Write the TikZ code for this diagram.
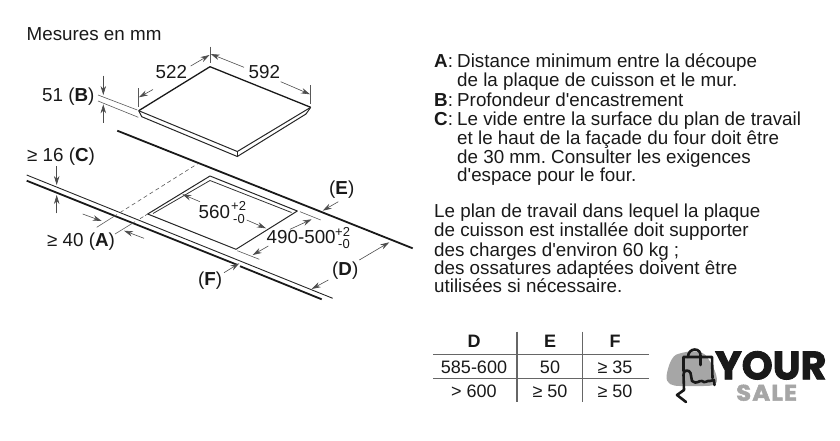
\documentclass[tikz,border=0pt]{standalone}
\usepackage{fontspec}
\setmainfont{Liberation Sans}
\newfontfamily\lblfont{Liberation Sans}
\newfontfamily\logofont{Poppins}[BoldFeatures={FakeBold=2.2}]
\newfontfamily\salefont{Poppins}[BoldFeatures={FakeBold=2.2,LetterSpace=5,FakeStretch=1.08}]
\usetikzlibrary{arrows.meta}

\begin{document}
\begin{tikzpicture}[
    x=1pt, y=-1pt,
    > = {Stealth[length=9pt,width=5.5pt]},
    thinline/.style={line width=0.6pt, black!65},
    edgeline/.style={line width=1pt, black!85},
    boldline/.style={line width=1.8pt, black!90},
    dimline/.style={->, line width=0.6pt, black!70},
    lbl/.style={anchor=base west, inner sep=0pt, font=\lblfont\frenchspacing\fontsize{18.8}{20}\selectfont, text=black!90},
    cell/.style={anchor=base, inner sep=0pt, font=\lblfont\fontsize{18}{20}\selectfont, text=black!90},
    tol/.style={anchor=base west, inner sep=0pt, font=\lblfont\fontsize{13}{14}\selectfont, text=black!90},
    ruleline/.style={line width=1.1pt, black!60},
    bagline/.style={line width=2.6pt, black!90, line join=round, line cap=round}
]
    \useasboundingbox (0,0) rectangle (840,440);

    % Cooktop
    \coordinate (ctopL) at (138.7,110.7);
    \coordinate (ctopT) at (210,66.7);
    \coordinate (ctopR) at (310.7,107.3);
    \coordinate (ctopB) at (237.3,151.5);
    \draw[line width=1.3pt, black!90, line join=round] (ctopL) -- (ctopT) -- (ctopR);
    \draw[edgeline] (ctopL) -- (ctopB) -- (ctopR);
    \draw[edgeline] (ctopL) -- (141.7,116.7) -- (237.3,156.5) -- (306,114) -- (ctopR);
    \draw[edgeline] (ctopB) -- (237.3,156.5);

    % Dimensions of the cooktop
    \draw[thinline] (210,46.7) -- (210,63);
    \draw[thinline] (138.7,88) -- (138.7,107);
    \draw[thinline] (310.7,85) -- (310.7,104);
    \draw[dimline] (153,89.5) -- (138.9,97.3);
    \draw[dimline] (190.7,66) -- (209.5,55);
    \draw[dimline] (244,67.3) -- (210.7,54);
    \draw[dimline] (280.7,81.7) -- (310,94.3);
    \draw[thinline] (98,95) -- (137.3,110);
    \draw[thinline] (98,101) -- (138.3,117.3);
    \draw[dimline] (103.3,75.7) -- (103.3,95);
    \draw[dimline] (103.3,122.7) -- (103.3,104.3);

    % Worktop
    \draw[boldline] (117.3,130.7) -- (412.7,248.3);
    \draw[line width=0.9pt, black!85] (26.7,175) -- (332.7,298.3);
    \draw[boldline] (26.7,180.7) -- (236.7,264.6);
    \draw[boldline] (240,266.2) -- (321.7,299.3);

    % Cut-out
    \coordinate (cutL) at (147.7,214);
    \coordinate (cutT) at (210,176);
    \coordinate (cutR) at (297.3,211);
    \coordinate (cutB) at (236,249.3);
    \draw[edgeline, line join=round] (cutL) -- (cutT) -- (cutR) -- (cutB) -- cycle;
    \draw[line width=0.8pt, black!80] (153,213.5) -- (210,180.5) -- (291.5,212.5);

    % Extension lines for A
    \draw[thinline] (96.7,227.3) -- (117,214.5);
    \draw[thinline, dash pattern=on 4pt off 3pt] (120,212.6) -- (198.3,163.3);
    \draw[thinline] (115,234) -- (135,221.7);
    \draw[thinline, dash pattern=on 4pt off 2pt] (140,218.7) -- (cutL);
    \draw[dimline] (82.7,214) -- (101.7,221);
    \draw[dimline] (144,238.3) -- (124,230.7);

    % C and inner dimensions
    \draw[dimline] (56.7,166) -- (56.7,185);
    \draw[dimline] (56.7,213.3) -- (56.7,195);
    \draw[dimline] (200,201.7) -- (182.3,194.3);
    \draw[dimline] (246.7,220) -- (266,228.3);
    \draw[thinline] (300,211.7) -- (320.7,220);
    \draw[thinline] (237.3,250.7) -- (259.3,259.3);
    \draw[dimline] (290,229.3) -- (311.7,219.3);
    \draw[dimline] (268.3,246) -- (252.7,255);

    % E, D, F
    \draw[dimline] (338.3,201.7) -- (322.7,210.7);
    \draw[dimline] (359.3,260) -- (389.3,242.3);
    \draw[dimline] (328.3,280) -- (311.7,289);
    \draw[dimline] (224,272.7) -- (239.3,263.3);

    % Labels of the drawing
    \node[lbl] (mesures) at (26.5,40) {Mesures en mm};
    \node[lbl] (len) at (155.5,78.3) {522};
    \node[lbl] (wid) at (248.5,78.3) {592};
    \node[lbl] (labB) at (42,101.7) {51 (\textbf{B})};
    \node[lbl] (labC) at (27,161.7) {≥ 16 (\textbf{C})};
    \node[lbl] (labA) at (47,246) {≥ 40 (\textbf{A})};
    \node[lbl] (cutw) at (198.5,218) {560};
    \node[tol] (cutwup) at (231,210) {+2};
    \node[tol] (cutwlo) at (233,223) {-0};
    \node[lbl] (cutd) at (266.5,243.3) {490-500};
    \node[tol] (cutdup) at (335,236) {+2};
    \node[tol] (cutdlo) at (338,248.5) {-0};
    \node[lbl] (labE) at (329,194) {(\textbf{E})};
    \node[lbl] (labD) at (332,275) {(\textbf{D})};
    \node[lbl] (labF) at (198,285.7) {(\textbf{F})};

    % Notes
    \node[lbl] (noteA) at (434,67) {\textbf{A}:};
    \node[lbl] (noteAa) at (457,67) {Distance minimum entre la découpe};
    \node[lbl] (noteAb) at (457,86) {de la plaque de cuisson et le mur.};
    \node[lbl] (noteB) at (434,106) {\textbf{B}:};
    \node[lbl] (noteBa) at (457,106) {Profondeur d'encastrement};
    \node[lbl] (noteC) at (434,125) {\textbf{C}:};
    \node[lbl] (noteCa) at (457,125) {Le vide entre la surface du plan de travail};
    \node[lbl] (noteCb) at (457,144) {et le haut de la façade du four doit être};
    \node[lbl] (noteCc) at (457,163) {de 30 mm. Consulter les exigences};
    \node[lbl] (noteCd) at (457,181) {d'espace pour le four.};
    \node[lbl] (planA) at (434,217.7) {Le plan de travail dans lequel la plaque};
    \node[lbl] (planB) at (434,236.7) {de cuisson est installée doit supporter};
    \node[lbl] (planC) at (434,256) {des charges d'environ 60 kg ;};
    \node[lbl] (planD) at (434,274) {des ossatures adaptées doivent être};
    \node[lbl] (planE) at (434,292.7) {utilisées si nécessaire.};

    % Table
    \draw[ruleline] (517,331.7) -- (517,401.7);
    \draw[ruleline] (582.7,331.7) -- (582.7,401.7);
    \draw[ruleline] (433.3,354.7) -- (648.7,354.7);
    \draw[ruleline] (433.3,378.3) -- (648.7,378.3);
    \node[cell] (headD) at (474,347.3) {\textbf{D}};
    \node[cell] (headE) at (550,347.3) {\textbf{E}};
    \node[cell] (headF) at (615,347.3) {\textbf{F}};
    \node[cell] (rowAd) at (474,373.3) {585-600};
    \node[cell] (rowAe) at (550,373.3) {50};
    \node[cell] (rowAf) at (615,373.3) {≥ 35};
    \node[cell] (rowBd) at (474,397.3) {> 600};
    \node[cell] (rowBe) at (550,397.3) {≥ 50};
    \node[cell] (rowBf) at (615,397.3) {≥ 50};

    % Logo
    \fill[black!35] (666.5,376) .. controls (668,366) and (672,355) .. (678,354)
        .. controls (690,350) and (703,350) .. (707,357)
        .. controls (712,364) and (717,373) .. (717,381)
        .. controls (717,386) and (710,386) .. (700,386) -- (680,386)
        .. controls (672,386) and (666,384) .. (666.5,376) -- cycle;
    \draw[bagline] (683.5,371) -- (683.5,357) -- (712,357) -- (712.5,378);
    \draw[bagline] (688,357) .. controls (688,347) and (702,347) .. (700.5,357) -- (700.5,365);
    \draw[bagline] (686,402) -- (677,395) -- (684,390) -- (683.5,375)
        .. controls (682.5,370) and (689.5,369) .. (690.5,373)
        -- (692,381) .. controls (697,385) and (699,380) .. (702,381)
        .. controls (705,384) and (707,380) .. (710,381)
        -- (714,380) -- (714.5,385);
    \node[anchor=base west, inner sep=0pt, text depth=0pt, font=\logofont\bfseries\fontsize{39.5}{41}\selectfont, text=black!90] (logoyour) at (715,379.3) {YOUR};
    \node[anchor=base west, inner sep=0pt, text height=15pt, font=\salefont\bfseries\fontsize{22.5}{23}\selectfont, text=black!35] (logosale) at (736,400.7) {SALE};
\end{tikzpicture}
\end{document}
